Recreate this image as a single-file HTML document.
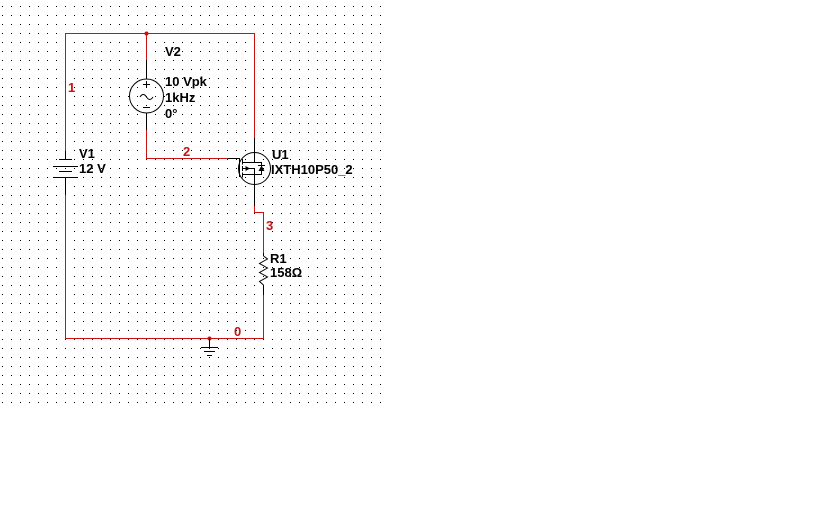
<!DOCTYPE html>
<html>
<head>
<meta charset="utf-8">
<style>
  html,body{margin:0;padding:0;background:#fff;}
  body{width:840px;height:525px;overflow:hidden;}
  svg{display:block;}
  .t{font-family:"Liberation Sans",Arial,sans-serif;font-weight:bold;font-size:13px;fill:#000;}
  .r{fill:#cc1111;}
</style>
</head>
<body>
<svg width="840" height="525" viewBox="0 0 840 525" xmlns="http://www.w3.org/2000/svg">
  <defs>
    <pattern id="g" x="0" y="0" width="9" height="9" patternUnits="userSpaceOnUse">
      <rect x="2" y="6" width="1" height="1" fill="#000"/>
    </pattern>
  </defs>
  <rect x="0" y="0" width="840" height="525" fill="#fff"/>
  <rect x="0" y="0" width="383" height="405" fill="url(#g)" shape-rendering="crispEdges"/>

  <!-- red wires -->
  <g stroke="#cc1111" stroke-width="1" fill="none" shape-rendering="crispEdges">
    <path d="M65.5,33.5 H254.5 V138"/>
    <path d="M65.5,33.5 V151"/>
    <path d="M65.5,195 V338.5 H263.5 V295"/>
    <path d="M146.5,33.5 V60"/>
    <path d="M146.5,130 V158.5 H228"/>
    <path d="M254.5,206 V212.5 H263.5 V253"/>
  </g>
  <circle cx="146.5" cy="33.5" r="2" fill="#cc1111"/>
  <circle cx="209.5" cy="338.5" r="2" fill="#cc1111"/>

  <!-- black component pins and symbols -->
  <g stroke="#000" stroke-width="1" fill="none" shape-rendering="crispEdges">
    <path d="M146.5,60 V79"/>
    <path d="M146.5,113 V130"/>
    <path d="M228,158.5 H239.5 V177"/>
    <path d="M65.5,151 V159.5"/>
    <path d="M59,159.5 H72"/>
    <path d="M53,166.5 H78"/>
    <path d="M59,171.5 H72"/>
    <path d="M53,177.5 H78"/>
    <path d="M65.5,177.5 V195"/>
    <path d="M254.5,138 V162.5"/>
    <path d="M242.5,162.5 H261.5 V174.5 H242.5"/>
    <path d="M242.5,168.5 H254.5 V206"/>
    <path d="M242.5,159 V164.5 M242.5,166 V171 M242.5,172.5 V177.5"/>
    <path d="M258,165.5 H265"/>
    <path d="M263.5,253 V256"/>
    <path d="M263.5,285 V295"/>
    <path d="M209.5,338.5 V347"/>
    <path d="M201,347.5 H218"/>
    <path d="M204,351.5 H215"/>
    <path d="M207,355.5 H212"/>
  </g>

  <!-- V2 source circle -->
  <circle cx="146.5" cy="96" r="17" fill="none" stroke="#000" stroke-width="1"/>
  <path d="M143,84.5 H150 M146.5,81 V88" stroke="#000" stroke-width="1" fill="none" shape-rendering="crispEdges"/>
  <path d="M143,107.5 H150" stroke="#000" stroke-width="1" fill="none" shape-rendering="crispEdges"/>
  <path d="M140,97 q3.25,-5 6.5,0 t6.5,0" stroke="#000" stroke-width="1" fill="none"/>

  <!-- MOSFET circle, arrow, diode -->
  <circle cx="254.5" cy="168.5" r="16" fill="none" stroke="#000" stroke-width="1"/>
  <polygon points="245.5,166 250,168.5 245.5,171" fill="#000"/>
  <polygon points="261.5,165.5 258.5,171 264.5,171" fill="#000"/>

  <!-- resistor zigzag -->
  <polyline points="263.5,256 267.5,259 259.5,263.5 267.5,268 259.5,272.5 267.5,277 259.5,281.5 263.5,285" fill="none" stroke="#000" stroke-width="1"/>

  <!-- labels -->
  <text class="t" x="165" y="56">V2</text>
  <text class="t" x="165" y="86">10 Vpk</text>
  <text class="t" x="165" y="102">1kHz</text>
  <text class="t" x="165" y="118">0°</text>
  <text class="t" x="79" y="158">V1</text>
  <text class="t" x="79" y="173">12 V</text>
  <text class="t" x="272" y="159">U1</text>
  <text class="t" x="271" y="174">IXTH10P50_2</text>
  <text class="t" x="270" y="263">R1</text>
  <text class="t" x="270" y="277">158Ω</text>

  <text class="t r" x="68" y="92">1</text>
  <text class="t r" x="183" y="156">2</text>
  <text class="t r" x="266" y="230">3</text>
  <text class="t r" x="234" y="336">0</text>
</svg>
</body>
</html>
